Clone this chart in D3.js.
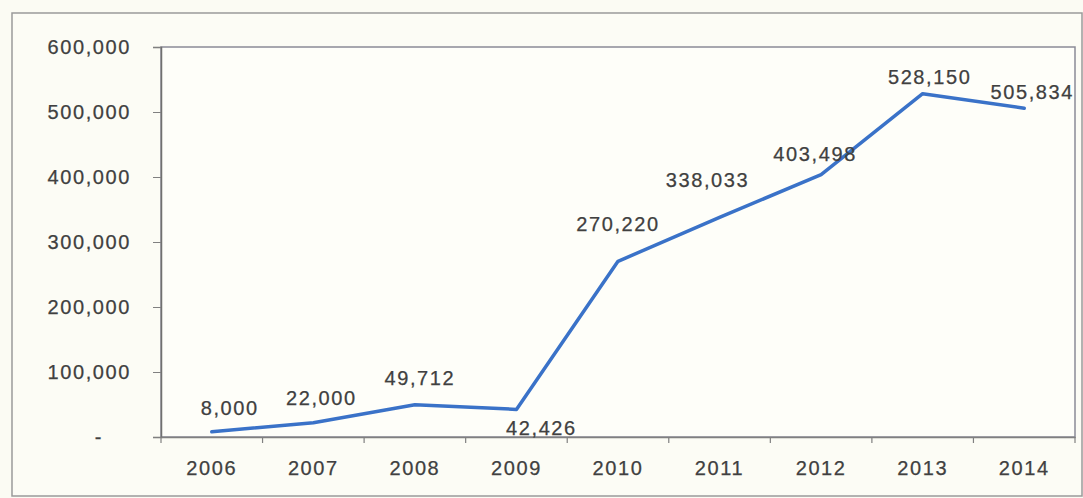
<!DOCTYPE html>
<html>
<head>
<meta charset="utf-8">
<script src="https://cdn.jsdelivr.net/npm/d3@7"></script>
<style>
  html, body { margin: 0; padding: 0; background: #fbfbf3; }
  svg { display: block; }
  text { font-family: "Liberation Sans", Arial, sans-serif; fill: #404040; }
</style>
</head>
<body>
<svg id="chart" width="1083" height="498"></svg>
<script>
const years = ["2006", "2007", "2008", "2009", "2010", "2011", "2012", "2013", "2014"];
const values = [8000, 22000, 49712, 42426, 270220, 338033, 403498, 528150, 505834];
const yTicks = [0, 100000, 200000, 300000, 400000, 500000, 600000];
// label nudges (dx, dy) relative to each point, in px
const labelNudge = [[18,-24],[8,-25],[5,-27],[25,19],[0,-37],[-12,-37],[-6,-21],[7,-17],[8,-16]];

const m = { left: 161, right: 1075, top: 47, bottom: 437 };
const svg = d3.select("#chart");

// outer frame
svg.append("rect").attr("x", 12).attr("y", 13).attr("width", 1070).attr("height", 483)
  .attr("fill", "#fcfcf5").attr("stroke", "#9a9a9a").attr("stroke-width", 1.5);
// plot area
svg.append("rect").attr("x", m.left).attr("y", m.top).attr("width", m.right - m.left).attr("height", m.bottom - m.top)
  .attr("fill", "#fefef9").attr("stroke", "#8a8a96").attr("stroke-width", 1.5);

const x = d3.scaleBand().domain(years).range([m.left, m.right]).padding(0);
const y = d3.scaleLinear().domain([0, 600000]).range([m.bottom, m.top]);

const fmt = d => d === 0 ? "-" : d3.format(",")(d);
const textStyle = sel => sel.style("font-size", "20px").style("letter-spacing", "1.6px")
  .attr("fill", "#404040").attr("stroke", "#404040").attr("stroke-width", 0.25);

// y axis
const ya = svg.append("g").attr("transform", `translate(${m.left},0)`)
  .call(d3.axisLeft(y).tickValues(yTicks).tickFormat(fmt).tickSize(8).tickPadding(22));
ya.select(".domain").attr("stroke", "#707070").attr("stroke-width", 1.5);
ya.selectAll(".tick line").attr("stroke", "#808080");
ya.selectAll(".tick text").call(textStyle);
ya.selectAll(".tick text").filter(d => d === 0).attr("dx", -28);

// x axis
const xa = svg.append("g").attr("transform", `translate(0,${m.bottom})`)
  .call(d3.axisBottom(x).tickSize(0).tickPadding(24));
xa.select(".domain").attr("stroke", "#808080").attr("stroke-width", 1.5);
xa.selectAll(".tick text").call(textStyle).attr("dy", "0.71em");
// boundary ticks between categories
const bounds = d3.range(years.length + 1).map(i => m.left + i * x.bandwidth());
svg.append("g").selectAll("line").data(bounds).join("line")
  .attr("x1", d => d).attr("x2", d => d).attr("y1", m.bottom).attr("y2", m.bottom + 6)
  .attr("stroke", "#808080").attr("stroke-width", 1.2);

// line
const cx = (d, i) => x(years[i]) + x.bandwidth() / 2;
const line = d3.line().x((d, i) => cx(d, i)).y(d => y(d));
svg.append("path").datum(values).attr("d", line)
  .attr("fill", "none").attr("stroke", "#3a72c8").attr("stroke-width", 3.5)
  .attr("stroke-linejoin", "round").attr("stroke-linecap", "round");

// data labels
svg.append("g").selectAll("text").data(values).join("text")
  .attr("x", (d, i) => cx(d, i) + labelNudge[i][0])
  .attr("y", (d, i) => y(d) + labelNudge[i][1])
  .attr("text-anchor", "middle").attr("dy", "0.35em")
  .call(textStyle)
  .text(d => d3.format(",")(d));
</script>
</body>
</html>
